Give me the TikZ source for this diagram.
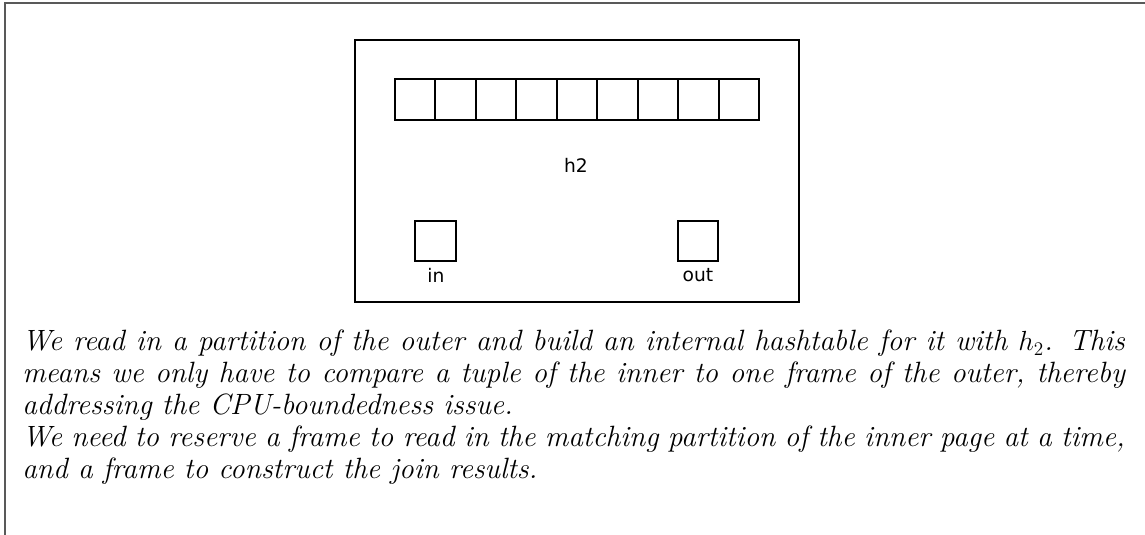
\documentclass[tikz,border=0pt]{standalone}
\usepackage{fontspec}
\newfontfamily\labelfont{DejaVu Sans}
\begin{document}
\begin{tikzpicture}[x=0.75pt,y=-0.75pt,
  cellbox/.style={draw=black,line width=1.5pt,minimum width=30.4pt,minimum height=30.4pt,inner sep=0pt,outer sep=0pt},
  lbl/.style={font=\labelfont\fontsize{14}{16}\selectfont,inner sep=0pt}]
\useasboundingbox (0,0) rectangle (1145,535);
\draw[gray!70!black,line width=1.2pt] (5,535) -- (5,3) -- (1145,3);
\node[draw=black,line width=1.5pt,minimum width=333.2pt,minimum height=196.5pt,inner sep=0pt] (frame) at (576.85,171) {};
\foreach \i in {1,...,9}{
  \node[cellbox] (c\i) at ({394.7+40.5*(\i-0.5)},99.7) {};
}
\node[lbl] (h) at (576,165) {h2};
\node[cellbox] (inb) at (435.5,241) {};
\node[cellbox] (outb) at (698,241) {};
\node[lbl,anchor=north] (inl) at (436,268) {in};
\node[lbl,anchor=north] (outl) at (698,268) {out};
\node[anchor=north west,inner sep=0pt,text width=827pt,align=justify,
  font=\fontsize{22}{24}\selectfont\itshape] (desc) at (22,330) {%
We read in a partition of the outer and build an internal hashtable for it with $h_2$. This\linebreak
means we only have to compare a tuple of the inner to one frame of the outer, thereby\linebreak
addressing the CPU-boundedness issue.\\
We need to reserve a frame to read in the matching partition of the inner page at a time,\linebreak
and a frame to construct the join results.};
\end{tikzpicture}
\end{document}
